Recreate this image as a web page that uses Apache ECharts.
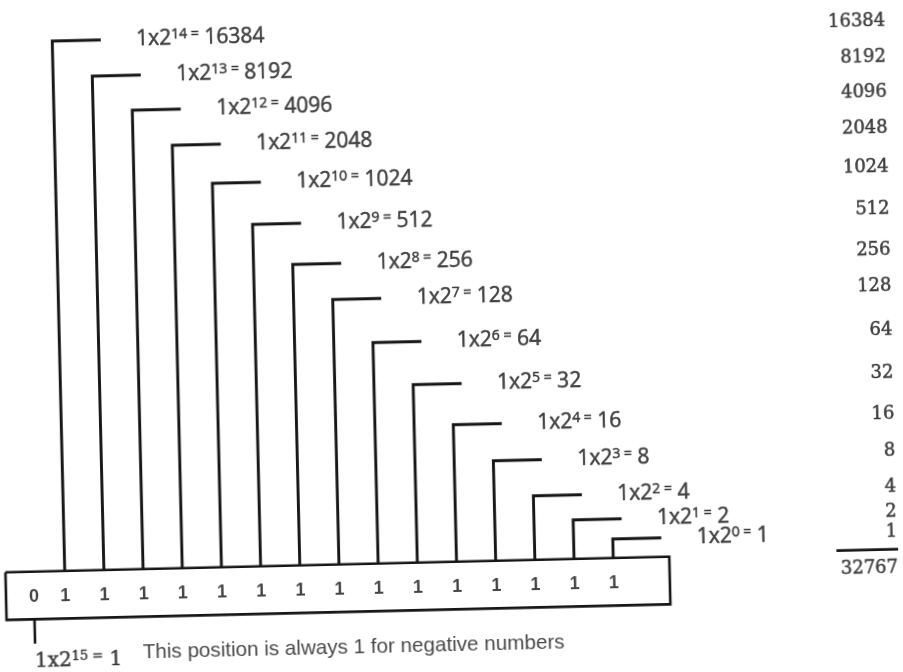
<!DOCTYPE html>
<html><head><meta charset="utf-8">
<script src="https://cdn.jsdelivr.net/npm/echarts@6/dist/echarts.min.js"></script>
<style>
html,body{margin:0;padding:0;background:#fff;overflow:hidden;width:903px;height:672px;}
#chart{position:absolute;left:-20px;top:-20px;width:943px;height:712px;transform:rotate(-1.35deg);transform-origin:471.5px 356px;}
</style></head><body><div id="chart"></div>
<script>
// ---------------- data ----------------
const exponents      = [14, 13, 12, 11, 10, 9, 8, 7, 6, 5, 4, 3, 2, 1, 0];
const placeValues    = [16384, 8192, 4096, 2048, 1024, 512, 256, 128, 64, 32, 16, 8, 4, 2, 1];
const bitDigits      = [0, 1, 1, 1, 1, 1, 1, 1, 1, 1, 1, 1, 1, 1, 1, 1];
const bracketHeights = [530, 494, 459, 423, 384, 342, 301, 265, 221, 178, 137, 100, 64, 39, 19];
const signExponent   = 15;
const signValue      = 1;
const totalValue     = 32767;
const noteText       = 'This position is always 1 for negative numbers';

// ---------------- layout ----------------
const W = 943, H = 712;
const SLOT_PX = 39.19, SLOT0_PX = 40.11, BOX_TOP_PX = 581.7;
const TICK = 48.5 / SLOT_PX;
const SUM_X = (913 - SLOT0_PX) / SLOT_PX;
const BOX_L = (20 - SLOT0_PX) / SLOT_PX, BOX_R = (684 - SLOT0_PX) / SLOT_PX, BOX_B = -47.7;
const SIGN_SLOT = 0.2;
const DIGIT_Y = -25;
const SIGN_END = -72;
const INK = '#161616';
const SANS = 'Liberation Sans';

function textWidth(font, txt) {
  const c = document.createElement('canvas').getContext('2d');
  c.font = font; return c.measureText(txt).width;
}
const noteSize = 20 * 422 / textWidth('20px "' + SANS + '"', noteText);

const chart = echarts.init(document.getElementById('chart'), null, {renderer: 'canvas'});
const slotOf = e => 15 - e;
const bold = {textBorderColor: INK, textBorderWidth: 0.5};

const option = {
  animation: false,
  backgroundColor: '#ffffff',
  grid: {left: 0, right: 0, top: 0, bottom: 0},
  xAxis: {type: 'value', min: -SLOT0_PX / SLOT_PX, max: (W - SLOT0_PX) / SLOT_PX, show: false},
  yAxis: {type: 'value', min: BOX_TOP_PX - H, max: BOX_TOP_PX, show: false},
  series: [
    { // brackets
      type: 'custom', silent: true, clip: false,
      data: exponents.map((e, k) => [slotOf(e), bracketHeights[k]]),
      renderItem: function (params, api) {
        const x = api.value(0), h = api.value(1);
        const p0 = api.coord([x, 0]), p1 = api.coord([x, h]), p2 = api.coord([x + TICK, h]);
        return {type: 'polyline', shape: {points: [p0, p1, p2]},
          style: {stroke: INK, lineWidth: 2.9, fill: null, lineJoin: 'miter'}};
      }
    },
    { // bracket labels
      type: 'scatter', silent: true, symbolSize: 1, itemStyle: {color: 'rgba(0,0,0,0)'},
      data: exponents.map((e, k) => [slotOf(e) + TICK, bracketHeights[k]]),
      label: {
        show: true, position: 'right', distance: 35,
        formatter: p => '{b|1x2}{s|' + exponents[p.dataIndex] + ' =}{b| ' + placeValues[p.dataIndex] + '}',
        rich: {
          b: Object.assign({fontFamily: 'Open Sans', fontSize: 21, color: INK, lineHeight: 22}, bold),
          s: Object.assign({fontFamily: 'Open Sans', fontSize: 14, color: INK, lineHeight: 5, verticalAlign: 'top'}, bold)
        }
      }
    },
    { // right column of values
      type: 'scatter', silent: true, symbolSize: 1, itemStyle: {color: 'rgba(0,0,0,0)'},
      data: placeValues.map((v, k) => [SUM_X, bracketHeights[k]]),
      label: Object.assign({
        show: true, position: 'left', distance: 0,
        formatter: p => String(placeValues[p.dataIndex]),
        fontFamily: 'DejaVu Serif', fontSize: 18, color: INK
      }, bold)
    },
    { // sum rule
      type: 'line', silent: true, symbol: 'none',
      data: [[SUM_X - 61.7 / SLOT_PX, 2], [SUM_X, 2]],
      lineStyle: {color: INK, width: 2.8}
    },
    { // total
      type: 'scatter', silent: true, symbolSize: 1, itemStyle: {color: 'rgba(0,0,0,0)'},
      data: [[SUM_X, -17]],
      label: Object.assign({show: true, position: 'left', distance: 0, formatter: String(totalValue),
        fontFamily: 'DejaVu Serif', fontSize: 18, color: INK}, bold)
    },
    { // register box
      type: 'line', silent: true, symbol: 'none',
      data: [[BOX_L, 0], [BOX_R, 0], [BOX_R, BOX_B], [BOX_L, BOX_B], [BOX_L, 0]],
      lineStyle: {color: INK, width: 2.6, join: 'miter'}
    },
    { // bit digits
      type: 'scatter', silent: true, symbolSize: 1, itemStyle: {color: 'rgba(0,0,0,0)'},
      data: bitDigits.map((b, j) => [j === 0 ? SIGN_SLOT : j, DIGIT_Y]),
      label: {show: true, position: 'inside', formatter: p => String(bitDigits[p.dataIndex]),
        fontFamily: SANS, fontWeight: 'bold', fontSize: 18, color: INK}
    },
    { // sign bit lead
      type: 'line', silent: true, symbol: 'none',
      data: [[SIGN_SLOT, BOX_B], [SIGN_SLOT, SIGN_END]],
      lineStyle: {color: INK, width: 2.6}
    },
    { // sign label + note
      type: 'scatter', silent: true, symbolSize: 1, itemStyle: {color: 'rgba(0,0,0,0)'},
      data: [
        {value: [SIGN_SLOT, SIGN_END], label: {
          show: true, position: [0, 19], align: 'left', verticalAlign: 'middle',
          formatter: '{b|1x2}{s|' + signExponent + ' =}{b| ' + signValue + '}',
          rich: {
            b: Object.assign({fontFamily: 'DejaVu Serif', fontSize: 20, color: INK, lineHeight: 22}, bold),
            s: Object.assign({fontFamily: 'DejaVu Serif', fontSize: 13, color: INK, lineHeight: 5, verticalAlign: 'top'}, bold)
          }}},
        {value: [SIGN_SLOT, SIGN_END], label: {
          show: true, position: [108, 12], align: 'left', verticalAlign: 'middle',
          formatter: noteText, fontFamily: SANS, fontSize: noteSize, color: INK}}
      ]
    }
  ]
};
chart.setOption(option);
</script></body></html>
